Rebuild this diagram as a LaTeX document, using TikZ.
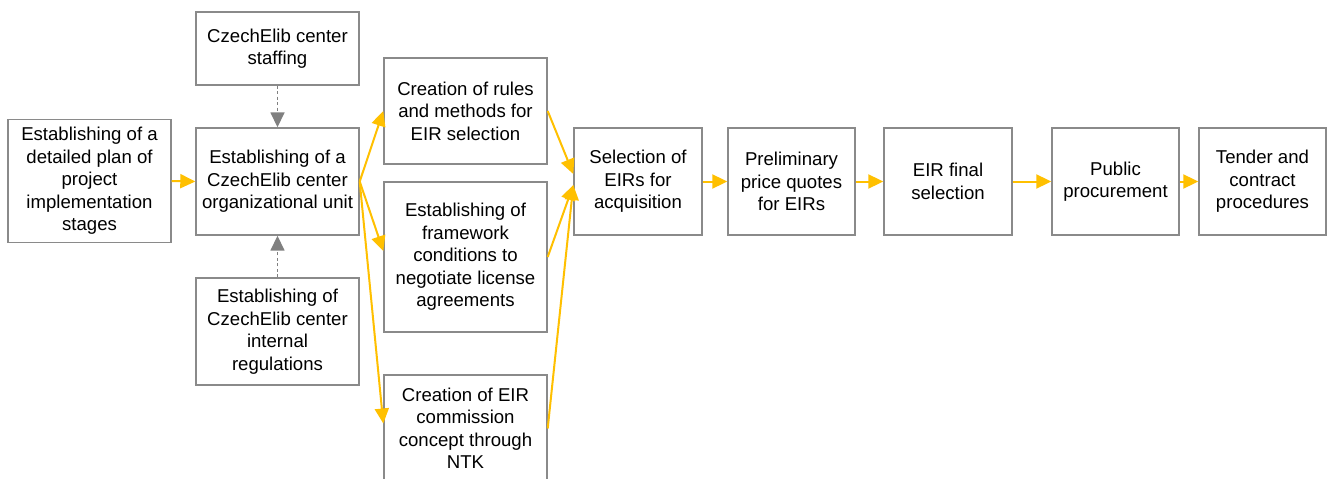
\documentclass[tikz,border=0pt]{standalone}
\usepackage{fontspec}
\setmainfont{Liberation Sans}
\usetikzlibrary{arrows.meta}
\definecolor{arrowyellow}{HTML}{FFC000}
\definecolor{boxgray}{HTML}{8A8A8A}
\definecolor{dashgray}{HTML}{808080}
\definecolor{shadowblue}{HTML}{DCE3EE}
\begin{document}
\begin{tikzpicture}[x=1pt,y=-1pt,
  box/.style={draw=boxgray, line width=1.4pt, fill=white, align=center,
    inner sep=0pt, font=\fontsize{18.6}{22.5}\selectfont},
  wide/.style={minimum width=163pt},
  narrow/.style={minimum width=128pt},
  flow/.style={draw=arrowyellow, line width=2pt, -{Triangle[length=15pt,width=14pt]}},
  dep/.style={draw=dashgray, line width=1.6pt, dash pattern=on 3pt off 2.5pt,
    -{Triangle[length=15pt,width=14pt,fill=dashgray]}}]
\clip (0,0) rectangle (1328,479);
\fill[white] (0,0) rectangle (1328,479);

\node[box, wide, minimum height=123pt] (plan) at (89.5,181) {Establishing of a\\detailed plan of\\project\\implementation\\stages};
\node[box, wide, minimum height=73pt] (staff) at (277.5,48.5) {CzechElib center\\staffing};
\node[box, wide, minimum height=107pt] (org) at (277.5,181.5) {Establishing of a\\CzechElib center\\organizational unit};
\node[box, wide, minimum height=107pt] (regs) at (277.5,331.5) {Establishing of\\CzechElib center\\internal\\regulations};
\node[box, wide, minimum height=106pt] (rules) at (465.5,111) {Creation of rules\\and methods for\\EIR selection};
\node[box, wide, minimum height=150pt] (frame) at (465.5,257) {Establishing of\\framework\\conditions to\\negotiate license\\agreements};
\node[box, wide, minimum height=107pt] (ntk) at (465.5,428.5) {Creation of EIR\\commission\\concept through\\NTK};
\node[box, narrow, minimum height=107pt] (sel) at (638,181.5) {Selection of\\EIRs for\\acquisition};
\node[box, minimum width=127pt, minimum height=107pt] (pre) at (791.5,181.5) {Preliminary\\price quotes\\for EIRs};
\node[box, narrow, minimum height=107pt] (fin) at (948,181.5) {EIR final\\selection};
\node[box, minimum width=127pt, minimum height=107pt] (pub) at (1115.5,181.5) {Public\\procurement};
\node[box, minimum width=127pt, minimum height=107pt] (ten) at (1262.5,181.5) {Tender and\\contract\\procedures};

\draw[dep] (staff.south) -- (org.north);
\draw[dep] (regs.north) -- (org.south);

\draw[flow] (plan.east) -- (org.west);
\draw[flow] (org.east) -- (rules.west);
\draw[flow] (org.east) -- ([yshift=6pt]frame.west);
\draw[flow] (org.east) -- ([yshift=5pt]ntk.west);
\draw[flow] (rules.east) -- ([yshift=7.5pt]sel.west);
\draw[flow] (frame.east) -- ([yshift=-3.5pt]sel.west);
\draw[flow] (ntk.east) -- ([yshift=-3.5pt]sel.west);
\draw[flow] (sel.east) -- (pre.west);
\draw[flow] (pre.east) -- (fin.west);
\draw[flow] (fin.east) -- (pub.west);
\draw[flow] (pub.east) -- (ten.west);
\end{tikzpicture}
\end{document}
